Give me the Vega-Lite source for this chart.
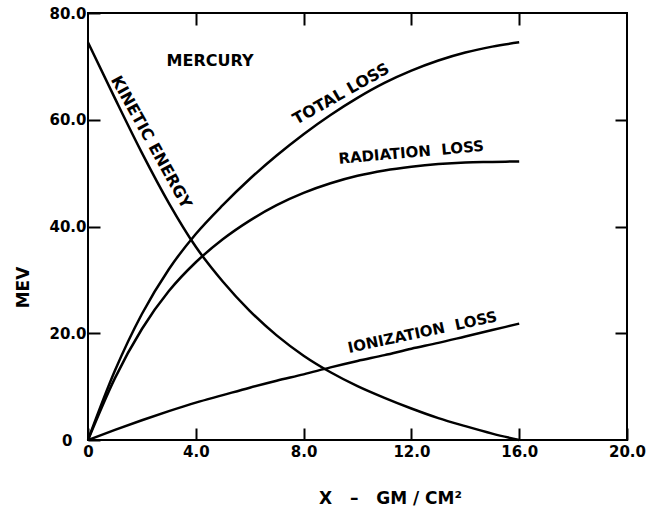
{
  "$schema": "https://vega.github.io/schema/vega-lite/v6.json",
  "width": 539,
  "height": 427,
  "autosize": "none",
  "padding": {"left": 88, "top": 13, "right": 22, "bottom": 73},
  "background": "white",
  "config": {
    "view": {"stroke": "black", "strokeWidth": 2},
    "font": "DejaVu Sans",
    "axis": {"labelFont": "DejaVu Sans", "titleFont": "DejaVu Sans", "labelColor": "black", "titleColor": "black", "tickColor": "black", "domain": false, "grid": false}
  },
  "datasets": {
    "curves": [
      {"series": "Kinetic energy", "x": 0, "y": 74.5},
      {"series": "Kinetic energy", "x": 1, "y": 64.0},
      {"series": "Kinetic energy", "x": 2, "y": 53.8},
      {"series": "Kinetic energy", "x": 3, "y": 44.4},
      {"series": "Kinetic energy", "x": 4, "y": 36.2},
      {"series": "Kinetic energy", "x": 5, "y": 29.7},
      {"series": "Kinetic energy", "x": 6, "y": 24.2},
      {"series": "Kinetic energy", "x": 7, "y": 19.6},
      {"series": "Kinetic energy", "x": 8, "y": 15.8},
      {"series": "Kinetic energy", "x": 9, "y": 12.7},
      {"series": "Kinetic energy", "x": 10, "y": 10.1},
      {"series": "Kinetic energy", "x": 11, "y": 7.9},
      {"series": "Kinetic energy", "x": 12, "y": 5.9},
      {"series": "Kinetic energy", "x": 13, "y": 4.1},
      {"series": "Kinetic energy", "x": 14, "y": 2.6},
      {"series": "Kinetic energy", "x": 15, "y": 1.2},
      {"series": "Kinetic energy", "x": 16, "y": 0},
      {"series": "Total loss", "x": 0, "y": 0},
      {"series": "Total loss", "x": 1, "y": 13.0},
      {"series": "Total loss", "x": 2, "y": 23.6},
      {"series": "Total loss", "x": 3, "y": 32.0},
      {"series": "Total loss", "x": 4, "y": 38.6},
      {"series": "Total loss", "x": 5, "y": 44.0},
      {"series": "Total loss", "x": 6, "y": 48.9},
      {"series": "Total loss", "x": 7, "y": 53.3},
      {"series": "Total loss", "x": 8, "y": 57.3},
      {"series": "Total loss", "x": 9, "y": 60.9},
      {"series": "Total loss", "x": 10, "y": 64.1},
      {"series": "Total loss", "x": 11, "y": 66.9},
      {"series": "Total loss", "x": 12, "y": 69.2},
      {"series": "Total loss", "x": 13, "y": 71.1},
      {"series": "Total loss", "x": 14, "y": 72.6},
      {"series": "Total loss", "x": 15, "y": 73.7},
      {"series": "Total loss", "x": 16, "y": 74.5},
      {"series": "Radiation loss", "x": 0, "y": 0},
      {"series": "Radiation loss", "x": 1, "y": 11.6},
      {"series": "Radiation loss", "x": 2, "y": 20.8},
      {"series": "Radiation loss", "x": 3, "y": 27.9},
      {"series": "Radiation loss", "x": 4, "y": 33.3},
      {"series": "Radiation loss", "x": 5, "y": 37.6},
      {"series": "Radiation loss", "x": 6, "y": 41.1},
      {"series": "Radiation loss", "x": 7, "y": 44.0},
      {"series": "Radiation loss", "x": 8, "y": 46.3},
      {"series": "Radiation loss", "x": 9, "y": 48.1},
      {"series": "Radiation loss", "x": 10, "y": 49.5},
      {"series": "Radiation loss", "x": 11, "y": 50.5},
      {"series": "Radiation loss", "x": 12, "y": 51.2},
      {"series": "Radiation loss", "x": 13, "y": 51.7},
      {"series": "Radiation loss", "x": 14, "y": 52.0},
      {"series": "Radiation loss", "x": 15, "y": 52.1},
      {"series": "Radiation loss", "x": 16, "y": 52.2},
      {"series": "Ionization loss", "x": 0, "y": 0},
      {"series": "Ionization loss", "x": 1, "y": 1.9},
      {"series": "Ionization loss", "x": 2, "y": 3.7},
      {"series": "Ionization loss", "x": 3, "y": 5.4},
      {"series": "Ionization loss", "x": 4, "y": 7.0},
      {"series": "Ionization loss", "x": 5, "y": 8.4},
      {"series": "Ionization loss", "x": 6, "y": 9.8},
      {"series": "Ionization loss", "x": 7, "y": 11.1},
      {"series": "Ionization loss", "x": 8, "y": 12.3},
      {"series": "Ionization loss", "x": 9, "y": 13.6},
      {"series": "Ionization loss", "x": 10, "y": 14.8},
      {"series": "Ionization loss", "x": 11, "y": 15.9},
      {"series": "Ionization loss", "x": 12, "y": 17.1},
      {"series": "Ionization loss", "x": 13, "y": 18.2},
      {"series": "Ionization loss", "x": 14, "y": 19.4},
      {"series": "Ionization loss", "x": 15, "y": 20.6},
      {"series": "Ionization loss", "x": 16, "y": 21.8}
    ]
  },
  "layer": [
    {
      "data": {"name": "curves"},
      "mark": {"type": "line", "color": "black", "strokeWidth": 2.5, "interpolate": "monotone"},
      "encoding": {
        "x": {
          "field": "x", "type": "quantitative",
          "scale": {"domain": [0, 20], "nice": false, "zero": false},
          "axis": {
            "orient": "bottom", "values": [0, 4, 8, 12, 16, 20],
            "labelExpr": "datum.value == 0 ? '0' : format(datum.value, '.1f')",
            "labelFlush": false, "tickSize": -12, "tickWidth": 2, "labelPadding": 16,
            "labelFontSize": 15, "labelFontWeight": "bold",
            "title": "X\u00a0\u00a0\u00a0–\u00a0\u00a0\u00a0GM / CM²", "titleFontSize": 17, "titleFontWeight": "bold",
            "titleX": 302, "titleY": 58, "titleBaseline": "middle", "titleAlign": "center"
          }
        },
        "y": {
          "field": "y", "type": "quantitative",
          "scale": {"domain": [0, 80], "nice": false},
          "axis": {
            "orient": "left", "values": [0, 20, 40, 60, 80],
            "labelExpr": "datum.value == 0 ? '0' : format(datum.value, '.1f')",
            "labelFlush": false, "tickSize": -12, "tickWidth": 2,
            "labelPadding": {"condition": {"test": "datum.value == 0", "value": 28}, "value": 14},
            "labelFontSize": 15, "labelFontWeight": "bold",
            "title": "MEV", "titleFontSize": 17, "titleFontWeight": "bold",
            "titleAngle": -90, "titleX": -65, "titleY": 274, "titleBaseline": "middle", "titleAlign": "center"
          }
        },
        "detail": {"field": "series"}
      }
    },
    {
      "data": {"name": "curves"},
      "mark": {"type": "line", "strokeOpacity": 0},
      "encoding": {
        "x": {
          "field": "x", "type": "quantitative",
          "axis": {"orient": "top", "values": [4, 8, 12, 16], "labels": false, "tickSize": -12, "tickWidth": 2, "title": null}
        },
        "y": {
          "field": "y", "type": "quantitative",
          "axis": {"orient": "right", "values": [20, 40, 60], "labels": false, "tickSize": -12, "tickWidth": 2, "title": null}
        },
        "detail": {"field": "series"}
      }
    },
    {
      "data": {"values": [{"x": 4.53, "y": 71.0, "label": "MERCURY"}]},
      "mark": {"type": "text", "fontSize": 16, "fontWeight": "bold", "align": "center", "baseline": "middle", "color": "black"},
      "encoding": {
        "x": {"field": "x", "type": "quantitative", "axis": null},
        "y": {"field": "y", "type": "quantitative", "axis": null},
        "text": {"field": "label"}
      }
    },
    {
      "data": {"values": [{"x": 2.34, "y": 55.8, "label": "KINETIC ENERGY"}]},
      "mark": {"type": "text", "fontSize": 16, "fontWeight": "bold", "align": "center", "baseline": "middle", "angle": 61, "color": "black"},
      "encoding": {
        "x": {"field": "x", "type": "quantitative", "axis": null},
        "y": {"field": "y", "type": "quantitative", "axis": null},
        "text": {"field": "label"}
      }
    },
    {
      "data": {"values": [{"x": 9.39, "y": 64.8, "label": "TOTAL LOSS"}]},
      "mark": {"type": "text", "fontSize": 16, "fontWeight": "bold", "align": "center", "baseline": "middle", "angle": -29.5, "color": "black"},
      "encoding": {
        "x": {"field": "x", "type": "quantitative", "axis": null},
        "y": {"field": "y", "type": "quantitative", "axis": null},
        "text": {"field": "label"}
      }
    },
    {
      "data": {"values": [{"x": 11.99, "y": 53.9, "label": "RADIATION\u00a0\u00a0LOSS"}]},
      "mark": {"type": "text", "fontSize": 15, "fontWeight": "bold", "align": "center", "baseline": "middle", "angle": -5, "color": "black"},
      "encoding": {
        "x": {"field": "x", "type": "quantitative", "axis": null},
        "y": {"field": "y", "type": "quantitative", "axis": null},
        "text": {"field": "label"}
      }
    },
    {
      "data": {"values": [{"x": 12.41, "y": 20.2, "label": "IONIZATION\u00a0\u00a0LOSS"}]},
      "mark": {"type": "text", "fontSize": 15, "fontWeight": "bold", "align": "center", "baseline": "middle", "angle": -12, "color": "black"},
      "encoding": {
        "x": {"field": "x", "type": "quantitative", "axis": null},
        "y": {"field": "y", "type": "quantitative", "axis": null},
        "text": {"field": "label"}
      }
    }
  ],
  "resolve": {"axis": {"x": "independent", "y": "independent"}}
}
